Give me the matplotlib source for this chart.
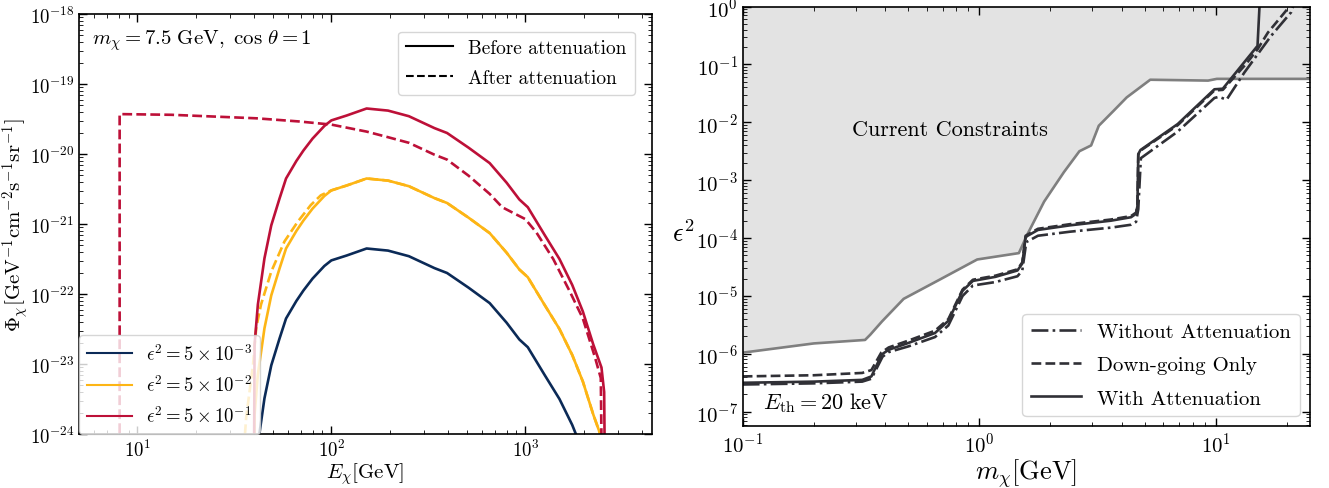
import numpy as np
import matplotlib
matplotlib.use('Agg')
import matplotlib.pyplot as plt
from matplotlib.lines import Line2D

plt.rcParams.update({
    'font.family': 'serif',
    'font.serif': ['cmr10', 'DejaVu Serif'],
    'mathtext.fontset': 'cm',
    'axes.formatter.use_mathtext': True,
    'axes.unicode_minus': False,
    'xtick.direction': 'in', 'ytick.direction': 'in',
    'xtick.top': True, 'ytick.right': True,
    'xtick.minor.visible': True, 'ytick.minor.visible': True,
    'xtick.major.size': 6, 'ytick.major.size': 6,
    'xtick.minor.size': 3, 'ytick.minor.size': 3,
    'xtick.major.width': 1.0, 'ytick.major.width': 1.0,
    'axes.linewidth': 1.2,
    'legend.edgecolor': '0.8',
})

# ---------------- Left panel data (E in GeV, log10 flux) ----------------
E_before = [39.8, 40.0, 40.2, 41.8, 45.2, 49, 54, 58.4, 66, 71.8, 80, 92, 100, 120, 152, 196,
            251, 340, 395, 510, 655, 801, 932, 1030, 1260, 1500, 1745, 1980, 2240, 2470,
            2550, 2600]
logphi_red = [-26, -24.0, -22.72, -22.15, -21.49, -21.02, -20.64, -20.35, -20.1, -19.95,
              -19.78, -19.6, -19.52, -19.45, -19.35, -19.38, -19.46, -19.63, -19.70, -19.91,
              -20.13, -20.41, -20.65, -20.76, -21.16, -21.5, -21.87, -22.25, -22.72, -23.05,
              -23.4, -26]
logphi_yellow = [-27, -25.0, -23.72, -23.15, -22.49, -22.02, -21.64, -21.35, -21.1, -20.95,
                 -20.78, -20.6, -20.52, -20.45, -20.35, -20.38, -20.46, -20.63, -20.70, -20.91,
                 -21.13, -21.41, -21.65, -21.76, -22.16, -22.5, -22.87, -23.25, -23.72, -24.05,
                 -24.4, -27]
logphi_navy = [-28, -26.0, -24.72, -24.15, -23.49, -23.02, -22.64, -22.35, -22.1, -21.95,
               -21.78, -21.6, -21.52, -21.45, -21.35, -21.38, -21.46, -21.63, -21.70, -21.91,
               -22.13, -22.41, -22.65, -22.76, -23.16, -23.5, -23.87, -24.25, -24.72, -25.05,
               -25.4, -28]

E_after_red = [8.1, 8.1, 15, 41, 68, 100, 152, 196, 251, 340, 395, 510, 655, 760, 850, 1000,
               1140, 1393, 1700, 1980, 2290, 2450, 2540]
logphi_after_red = [-27, -19.43, -19.44, -19.49, -19.535, -19.58, -19.68, -19.76, -19.84,
                    -20.01, -20.08, -20.31, -20.57, -20.76, -20.83, -20.93, -21.12, -21.5,
                    -21.97, -22.35, -22.91, -23.2, -27]

E_after_yellow = [35.0, 36.4, 39.5, 41, 43.4, 49, 57.3, 67, 78.3, 88.3, 100, 120, 152, 196,
                  251, 340, 395, 510, 655, 801, 932, 1030, 1260, 1500, 1745, 1980, 2240, 2470,
                  2550, 2600]
logphi_after_yellow = [-24.4, -23.76, -23.0, -22.48, -22.15, -21.68, -21.25, -20.97, -20.73,
                       -20.59, -20.52, -20.45, -20.35, -20.38, -20.46, -20.63, -20.70, -20.91,
                       -21.13, -21.41, -21.65, -21.76, -22.16, -22.5, -22.87, -23.25, -23.72,
                       -24.05, -24.4, -27]

eps_labels = [r'$\epsilon^2 = 5\times10^{-3}$', r'$\epsilon^2 = 5\times10^{-2}$',
              r'$\epsilon^2 = 5\times10^{-1}$']

# ---------------- Right panel data (m in GeV, log10 eps^2) ----------------
m_con = [0.1, 0.2, 0.329, 0.346, 0.388, 0.479, 0.686, 0.98, 1.47, 1.6, 1.88, 2.28, 2.65,
         2.97, 3.2, 3.7, 4.2, 5.28, 9.27, 10.1, 25]
log_con = [-5.98, -5.82, -5.76, -5.67, -5.44, -5.05, -4.71, -4.37, -4.26, -3.93, -3.37,
           -2.86, -2.50, -2.40, -2.06, -1.80, -1.57, -1.265, -1.28, -1.25, -1.25]

m_with = [0.1, 0.2, 0.32, 0.35, 0.387, 0.414, 0.503, 0.65, 0.74, 0.85, 0.94, 1.17, 1.45,
          1.52, 1.57, 1.77, 2.42, 3.6, 4.38, 4.6, 4.66, 4.70, 4.8, 6.9, 9.86, 10.7, 15.0,
          15.3, 15.6]
log_with = [-6.5, -6.48, -6.45, -6.39, -6.01, -5.93, -5.81, -5.64, -5.43, -4.91, -4.74,
            -4.67, -4.56, -4.44, -3.98, -3.86, -3.78, -3.70, -3.64, -3.58, -3.45, -2.55,
            -2.48, -2.03, -1.43, -1.42, -0.68, 0.02, 0.2]

m_down = [0.1, 0.2, 0.32, 0.35, 0.385, 0.414, 0.503, 0.65, 0.74, 0.85, 0.94, 1.17, 1.45,
          1.52, 1.57, 1.77, 2.42, 3.6, 4.38, 4.6, 4.66, 4.70, 4.8, 6.9, 9.86, 10.7, 13.5,
          15.0, 16.6, 20.2, 21.0]
log_down = [-6.39, -6.37, -6.33, -6.28, -5.98, -5.89, -5.77, -5.60, -5.40, -4.89, -4.72,
            -4.65, -4.54, -4.42, -3.96, -3.84, -3.76, -3.68, -3.62, -3.56, -3.44, -2.56,
            -2.49, -2.05, -1.45, -1.44, -0.98, -0.74, -0.45, -0.03, 0.1]

m_without = [0.1, 0.2, 0.32, 0.35, 0.39, 0.414, 0.503, 0.65, 0.74, 0.85, 0.94, 1.17, 1.45,
             1.52, 1.58, 1.77, 2.42, 3.6, 4.38, 4.6, 4.70, 4.82, 6.9, 9.86, 10.3, 11.1, 13.2,
             17.1, 20.8, 21.6]
log_without = [-6.53, -6.51, -6.48, -6.43, -6.05, -5.97, -5.87, -5.71, -5.51, -5.0, -4.82,
               -4.76, -4.66, -4.56, -4.07, -3.96, -3.89, -3.82, -3.77, -3.72, -3.5, -2.62,
               -2.16, -1.58, -1.56, -1.61, -1.14, -0.51, -0.1, 0.1]

navy = '#0b2a57'
gold = '#fdb515'
crimson = '#bd1038'
dark = '#303036'

fig = plt.figure(figsize=(13.29, 4.89), dpi=100)

# ---------------- Left panel ----------------
ax1 = fig.add_axes([79/1329, 1-435/489, (652-79)/1329, (435-15)/489])
lw = 1.9
ax1.plot(E_before, 10**np.array(logphi_navy), color=navy, lw=lw)
ax1.plot(E_after_yellow, 10**np.array(logphi_after_yellow), color=gold, lw=lw, ls='--')
ax1.plot(E_before, 10**np.array(logphi_yellow), color=gold, lw=lw)
ax1.plot(E_before, 10**np.array(logphi_red), color=crimson, lw=lw)
ax1.plot(E_after_red, 10**np.array(logphi_after_red), color=crimson, lw=lw, ls='--')
ax1.set_xscale('log')
ax1.set_yscale('log')
ax1.set_xlim(5, 4500)
ax1.set_ylim(1e-24, 1e-18)
ax1.tick_params(labelsize=13.5)
ax1.set_xlabel(r'$E_\chi [\mathrm{GeV}]$', fontsize=15, labelpad=0)
ax1.set_ylabel(r'$\Phi_\chi [\mathrm{GeV}^{-1}\mathrm{cm}^{-2}\mathrm{s}^{-1}\mathrm{sr}^{-1}]$',
               fontsize=15)
ax1.yaxis.set_label_coords(-0.083, 0.5)
ax1.text(0.022, 0.938, r'$m_\chi = 7.5\ \mathrm{GeV},\ \cos\,\theta = 1$', transform=ax1.transAxes,
         fontsize=15, va='center', ha='left')

style_handles = [Line2D([], [], color='k', lw=1.5, ls='-'),
                 Line2D([], [], color='k', lw=1.5, ls='--')]
leg1 = ax1.legend(style_handles, ['Before attenuation', 'After attenuation'], loc='upper right',
                  fontsize=14, handlelength=2.4, borderaxespad=0.9, labelspacing=0.6)
ax1.add_artist(leg1)
color_handles = [Line2D([], [], color=c, lw=1.5) for c in (navy, gold, crimson)]
ax1.legend(color_handles, eps_labels, loc='lower left', fontsize=13.5, handlelength=2.4,
           borderaxespad=0.0, labelspacing=0.55)

# ---------------- Right panel ----------------
ax2 = fig.add_axes([742.7/1329, 1-427.3/489, (1310-742.7)/1329, (427.3-7.5)/489])
ax2.fill_between(m_con, 10**np.array(log_con), 10.0, color='#e3e3e3', lw=0)
ax2.plot(m_con, 10**np.array(log_con), color='#7f7f7f', lw=1.9)
ax2.plot(m_without, 10**np.array(log_without), color=dark, lw=1.9, ls='-.',
         label='Without Attenuation')
ax2.plot(m_down, 10**np.array(log_down), color=dark, lw=1.9, ls='--', label='Down-going Only')
ax2.plot(m_with, 10**np.array(log_with), color=dark, lw=1.9, ls='-', label='With Attenuation')
ax2.set_xscale('log')
ax2.set_yscale('log')
ax2.set_xlim(0.1, 25)
ax2.set_ylim(5.6e-8, 1)
ax2.tick_params(labelsize=15)
ax2.set_xlabel(r'$m_\chi [\mathrm{GeV}]$', fontsize=19, labelpad=0)
ax2.set_ylabel(r'$\epsilon^2$', fontsize=19, rotation=0)
ax2.yaxis.set_label_coords(-0.105, 0.43)
ax2.text(0.75, 7.6e-3, 'Current Constraints', fontsize=16, ha='center', va='center')
ax2.text(0.036, 0.058, r'$E_\mathrm{th} = 20\ \mathrm{keV}$', transform=ax2.transAxes,
         fontsize=16, ha='left', va='center')
ax2.legend(loc='lower right', fontsize=15, handlelength=2.4, borderaxespad=0.5,
           labelspacing=0.7)

fig.savefig('out.png', dpi=100)
